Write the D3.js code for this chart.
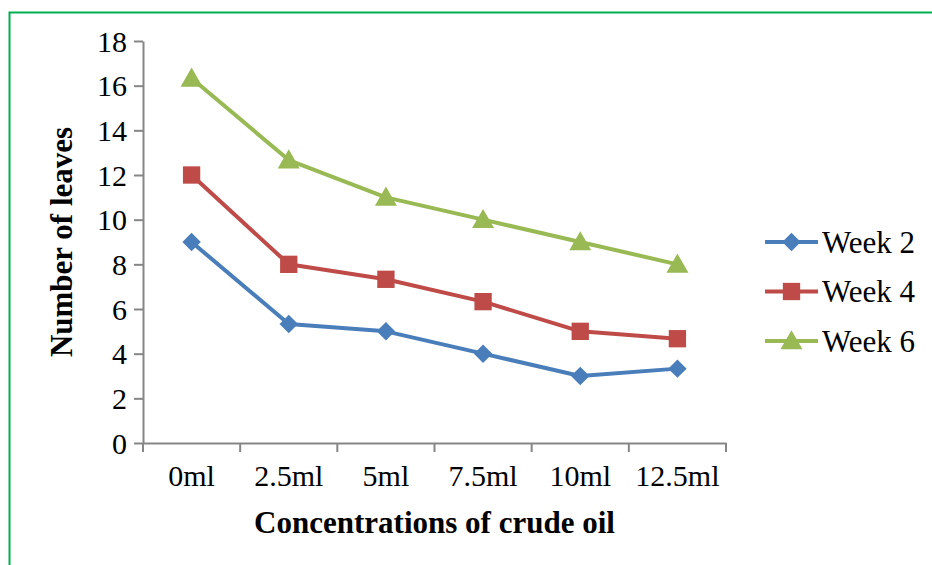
<!DOCTYPE html>
<html>
<head>
<meta charset="utf-8">
<script src="https://cdn.jsdelivr.net/npm/d3@7"></script>
<style>
  body { margin: 0; background: #fff; }
  text { font-family: "Liberation Serif", "Times New Roman", serif; fill: #000; }
</style>
</head>
<body>
<svg id="chart" width="932" height="565"></svg>
<script>
// data
var categories = ["0ml", "2.5ml", "5ml", "7.5ml", "10ml", "12.5ml"];
var week2 = [9, 5.33, 5, 4, 3, 3.33];
var week4 = [12, 8, 7.33, 6.33, 5, 4.67];
var week6 = [16.33, 12.67, 11, 10, 9, 8];
var seriesNames = ["Week 2", "Week 4", "Week 6"];
var yTicks = [0, 2, 4, 6, 8, 10, 12, 14, 16, 18];

var colors = ["#4A7EBB", "#BE4B48", "#98B954"];
// diamond = square turned 45deg (excel style)
var shapes = [d3.symbolSquare, d3.symbolSquare, d3.symbolTriangle];
var sizes = [170, 300, 210];
var turn = [45, 0, 0];
var shiftY = [0, 0, 2];

var svg = d3.select("svg#chart"),
    width = +svg.attr("width"),
    height = +svg.attr("height");

// green frame, cut off at right/bottom like the source
svg.append("path")
    .attr("d", "M9.5,565 L9.5,12.5 L932,12.5")
    .attr("fill", "none")
    .attr("stroke", "#00B050")
    .attr("stroke-width", 2);

var plotLeft = 143, plotRight = 726, plotTop = 41, plotBottom = 443;

var x = d3.scaleBand().domain(categories).range([plotLeft, plotRight]);
var y = d3.scaleLinear().domain([0, 18]).range([plotBottom, plotTop]);

// y axis
var yAxis = svg.append("g")
    .attr("transform", "translate(" + plotLeft + ",0)")
    .call(d3.axisLeft(y).tickValues(yTicks).tickSize(9).tickPadding(7).tickSizeOuter(0));
yAxis.selectAll("text").style("font-size", "30px").attr("dy", "0.34em");

// x axis
var xAxis = svg.append("g")
    .attr("transform", "translate(0," + plotBottom + ")")
    .call(d3.axisBottom(x).tickSize(0).tickPadding(22));
xAxis.selectAll("text").style("font-size", "30px");
// excel-style ticks between categories
xAxis.selectAll(".sep")
    .data(d3.range(categories.length + 1))
    .enter().append("line")
    .attr("class", "sep")
    .attr("x1", function(i) { return plotLeft + i * x.step(); })
    .attr("x2", function(i) { return plotLeft + i * x.step(); })
    .attr("y1", 0).attr("y2", 9);

svg.selectAll(".domain, .tick line, .sep")
    .attr("stroke", "#868686")
    .attr("stroke-width", 2);

//axis titles
svg.append("text")
    .attr("x", (plotLeft + plotRight) / 2)
    .attr("y", 533)
    .attr("text-anchor", "middle")
    .style("font-size", "31px")
    .style("font-weight", "bold")
    .text("Concentrations of crude oil");

svg.append("text")
    .attr("transform", "translate(72," + ((plotTop + plotBottom) / 2) + ") rotate(-90)")
    .attr("text-anchor", "middle")
    .style("font-size", "31px")
    .style("font-weight", "bold")
    .text("Number of leaves");

// lines + markers
var allSeries = [week2, week4, week6];
var line = d3.line()
    .x(function(d, i) { return x(categories[i]) + x.bandwidth() / 2; })
    .y(function(d) { return y(d); });

allSeries.forEach(function(vals, s) {
  var g = svg.append("g");
  g.append("path")
      .datum(vals)
      .attr("d", line)
      .attr("fill", "none")
      .attr("stroke", colors[s])
      .attr("stroke-width", 4)
      .attr("stroke-linejoin", "round");
  g.selectAll("path.mark")
      .data(vals)
      .enter().append("path")
      .attr("class", "mark")
      .attr("d", d3.symbol().type(shapes[s]).size(sizes[s]))
      .attr("transform", function(d, i) {
        return "translate(" + (x(categories[i]) + x.bandwidth() / 2) + "," + (y(d) + shiftY[s]) + ") rotate(" + turn[s] + ")";
      })
      .attr("fill", colors[s]);
});

// legend
var legend = svg.append("g");
var legendRows = legend.selectAll("g")
    .data(seriesNames)
    .enter().append("g")
    .attr("transform", function(d, i) { return "translate(765," + (242 + i * 49.5) + ")"; });
legendRows.append("line")
    .attr("x1", 0).attr("x2", 53)
    .attr("stroke", function(d, i) { return colors[i]; })
    .attr("stroke-width", 4);
legendRows.append("path")
    .attr("d", function(d, i) { return d3.symbol().type(shapes[i]).size(sizes[i])(); })
    .attr("transform", function(d, i) { return "translate(26.5," + shiftY[i] + ") rotate(" + turn[i] + ")"; })
    .attr("fill", function(d, i) { return colors[i]; });
legendRows.append("text")
    .attr("x", 57)
    .attr("dy", "0.34em")
    .style("font-family", "'Liberation Serif', serif")
    .style("font-size", "31px")
    .text(function(d) { return d; });
</script>
</body>
</html>
